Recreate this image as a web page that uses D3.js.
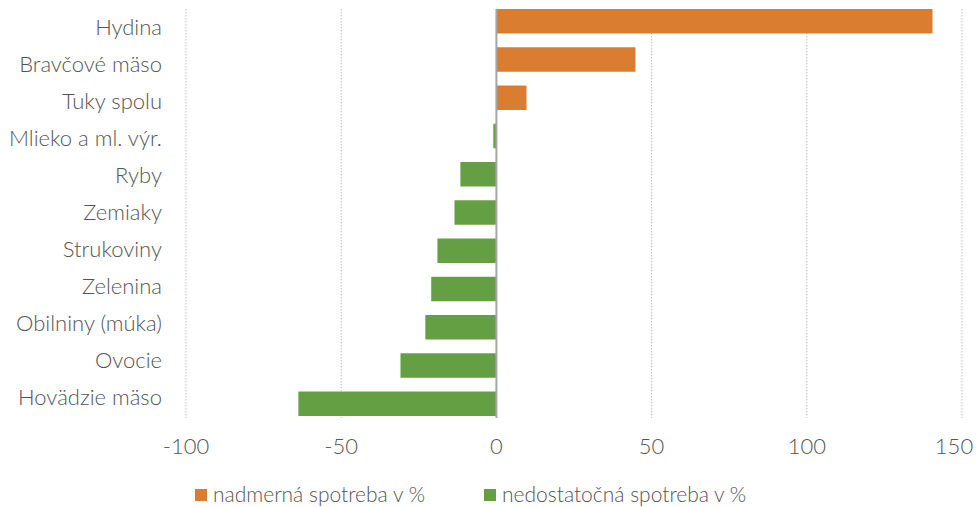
<!DOCTYPE html>
<html>
<head>
<meta charset="utf-8">
<script src="https://cdn.jsdelivr.net/npm/d3@7"></script>
<style>
  body { margin: 0; background: #fff; }
  svg text { font-family: Lato, "Open Sans", sans-serif; font-weight: 300; fill: #555; }
</style>
</head>
<body>
<svg id="chart"></svg>
<script>
const categories = ["Hydina", "Bravčové mäso", "Tuky spolu", "Mlieko a ml. výr.", "Ryby", "Zemiaky",
  "Strukoviny", "Zelenina", "Obilniny (múka)", "Ovocie", "Hovädzie mäso"];
const values = [140.5, 44.8, 9.7, -1, -11.6, -13.5, -19, -21, -22.9, -30.9, -63.8];
const xTicks = [-100, -50, 0, 50, 100, 150];
const legendLabels = ["nadmerná spotreba v %", "nedostatočná spotreba v %"];

const width = 980, height = 507;
const colorOver = "#DB7D30", colorUnder = "#659F44";
const svg = d3.select("#chart").attr("width", width).attr("height", height);

const x = d3.scaleLinear().domain([-100, 150]).range([186, 962]);
const y = d3.scaleBand().domain(categories).range([9, 416]).paddingInner(0.36).paddingOuter(0);
// category labels sit on a slightly tighter pitch than the bars
const yLabel = d3.scalePoint().domain(categories).range([27, 397]);

// dotted gridlines
svg.append("g").selectAll("line")
  .data(xTicks.filter(d => d !== 0))
  .join("line")
  .attr("x1", d => x(d)).attr("x2", d => x(d))
  .attr("y1", 9).attr("y2", 418)
  .attr("stroke", "#BFBFBF")
  .attr("stroke-width", 1)
  .attr("stroke-dasharray", "1.5,1.5");

// bars
svg.append("g").selectAll("rect")
  .data(values)
  .join("rect")
  .attr("x", d => x(Math.min(0, d)))
  .attr("width", d => Math.abs(x(d) - x(0)))
  .attr("y", (d, i) => y(categories[i]))
  .attr("height", y.bandwidth())
  .attr("fill", d => d >= 0 ? colorOver : colorUnder);

// zero line
svg.append("line")
  .attr("x1", x(0)).attr("x2", x(0))
  .attr("y1", 9).attr("y2", 418)
  .attr("stroke", "#A6A6A6")
  .attr("stroke-width", 2);

// category labels
svg.append("g").selectAll("text")
  .data(categories)
  .join("text")
  .attr("x", 162)
  .attr("y", d => yLabel(d))
  .attr("dy", "0.36em")
  .attr("text-anchor", "end")
  .style("font-size", "22px")
  .text(d => d);

// x tick labels (plain hyphen, last label pulled inside the frame like Excel does)
svg.append("g").selectAll("text")
  .data(xTicks)
  .join("text")
  .attr("x", d => x(d))
  .attr("dx", (d, i) => i === xTicks.length - 1 ? -8 : 0)
  .attr("y", 446)
  .attr("dy", "0.36em")
  .attr("text-anchor", "middle")
  .style("font-size", "22px")
  .text(d => String(d));

// legend
const legend = svg.append("g").selectAll("g")
  .data(legendLabels)
  .join("g")
  .attr("transform", (d, i) => `translate(${[195, 484][i]},502)`);
legend.append("rect")
  .attr("x", 0).attr("y", -13)
  .attr("width", 12).attr("height", 12)
  .attr("fill", (d, i) => i === 0 ? colorOver : colorUnder);
legend.append("text")
  .attr("x", 18).attr("y", 0)
  .style("font-size", "21px")
  .text(d => d);
</script>
</body>
</html>
